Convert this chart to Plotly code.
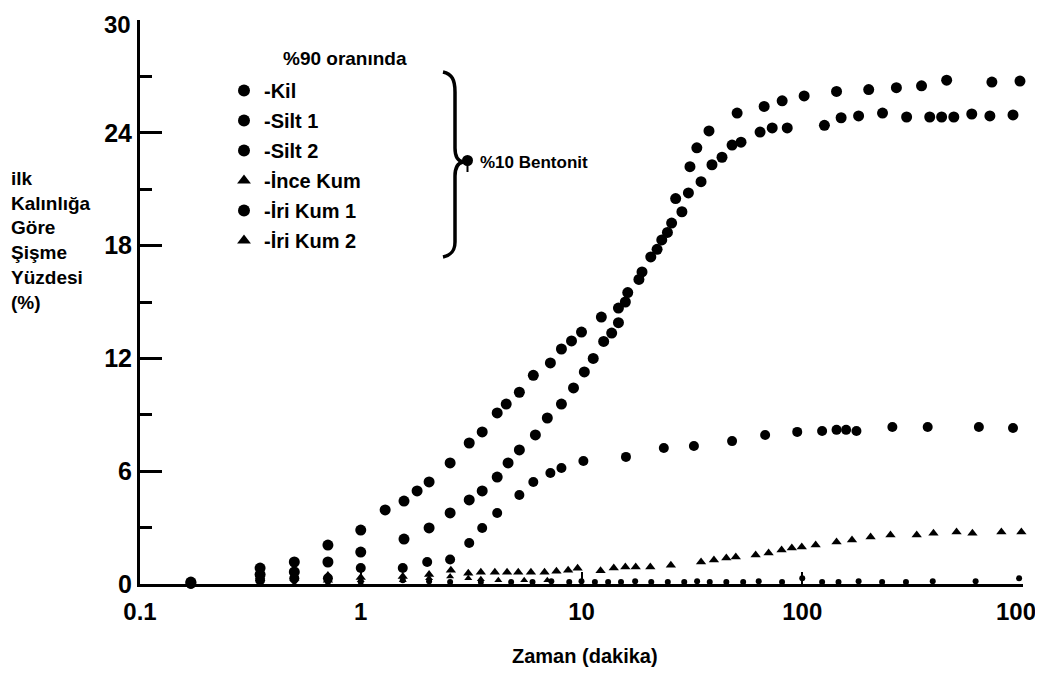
import plotly.graph_objects as go

# ---------------- data ----------------
kil_x = [0.17, 0.35, 0.5, 0.71, 1.0, 1.29, 1.57, 1.8, 2.04, 2.54, 3.1, 3.55, 4.15, 4.56, 5.23,
         6.05, 7.23, 8.11, 9.01, 10.0, 12.3, 14.7, 15.8, 18.2, 20.6, 23.1, 25.6, 26.7, 31.0, 33.3,
         37.8, 50.7, 67.2, 81.1, 102, 143, 200, 267, 347, 451, 723, 969]
kil_y = [0.1, 0.85, 1.17, 2.07, 2.87, 3.94, 4.41, 4.95, 5.43, 6.44, 7.5, 8.09, 9.1, 9.57, 10.2,
         11.1, 11.76, 12.5, 12.93, 13.4, 14.2, 14.68, 15.0, 16.2, 17.4, 18.3, 19.2, 20.5, 22.2, 23.2,
         24.1, 25.05, 25.4, 25.7, 25.96, 26.2, 26.3, 26.4, 26.5, 26.8, 26.7, 26.75]

silt1_x = [0.17, 0.35, 0.5, 0.71, 1.0, 1.55, 2.0, 2.54, 3.1, 3.55, 4.15, 5.23, 6.05, 7.23, 8.11,
           10.2, 15.9, 23.6, 32.3, 48.1, 67.9, 94.9, 123, 143, 158, 176, 256, 370, 631, 901]
silt1_y = [0.0, 0.2, 0.3, 0.3, 0.85, 0.85, 1.17, 1.3, 2.18, 2.98, 3.78, 4.73, 5.43, 5.9, 6.17,
           6.54, 6.76, 7.23, 7.34, 7.6, 7.93, 8.09, 8.14, 8.2, 8.2, 8.14, 8.35, 8.35, 8.35, 8.3]

silt2_x = [0.17, 0.35, 0.5, 0.71, 1.0, 1.57, 2.04, 2.54, 3.1, 3.55, 4.15, 4.65, 5.23, 6.18, 7.0,
           8.11, 9.2, 10.3, 11.3, 12.6, 13.7, 14.7, 16.2, 18.8, 22.0, 24.5, 28.5, 30.5, 34.8, 39.0,
           43.3, 48.1, 52.8, 64.4, 73.1, 85.5, 126, 150, 180, 231, 297, 378, 428, 486, 586, 708, 901]
silt2_y = [0.05, 0.5, 0.64, 1.17, 1.7, 2.39, 2.98, 3.78, 4.47, 4.95, 5.69, 6.44, 7.13, 7.93, 8.83,
           9.57, 10.43, 11.28, 12.0, 12.9, 13.35, 13.9, 15.5, 16.6, 17.8, 18.7, 19.8, 20.8, 21.4, 22.3,
           22.7, 23.35, 23.5, 24.04, 24.26, 24.26, 24.4, 24.8, 24.9, 25.05, 24.84, 24.84, 24.84, 24.84,
           25.0, 24.9, 24.95]

ince_x = [0.17, 0.35, 0.5, 0.71, 1.0, 1.55, 2.04, 2.56, 3.07, 3.5, 4.05, 4.6, 5.17, 5.9, 6.8,
          7.7, 8.7, 9.6, 12.2, 14.0, 15.8, 17.6, 20.5, 25.4, 34.8, 39.8, 45.3, 50.0, 61.5, 70.4,
          80.6, 89.7, 99.5, 115, 143, 168, 204, 251, 330, 393, 500, 590, 798, 983]
ince_y = [0.0, 0.4, 0.3, 0.2, 0.35, 0.4, 0.5, 0.73, 0.57, 0.63, 0.63, 0.63, 0.63, 0.63, 0.63,
          0.68, 0.73, 0.84, 0.7, 0.85, 0.9, 0.9, 0.9, 1.0, 1.17, 1.28, 1.38, 1.44, 1.54, 1.65,
          1.81, 1.91, 1.97, 2.07, 2.23, 2.34, 2.5, 2.6, 2.6, 2.7, 2.76, 2.7, 2.76, 2.76]

iri1_x = [0.17, 0.35, 0.5, 0.71, 1.0, 1.55, 2.04, 2.54, 3.5, 4.8, 6.0, 7.3, 8.8, 10, 11.5,
          13.2, 15.1, 17.5, 20.7, 24.6, 29.2, 33.4, 38.1, 45.3, 54, 63.5, 81, 100, 123, 146,
          180, 230, 295, 390, 610, 960]
iri1_y = [0.0, 0.1, 0.15, 0.1, 0.1, 0.2, 0.15, 0.1, 0.1, 0.1, 0.1, 0.15, 0.1, 0.15, 0.1,
          0.1, 0.1, 0.15, 0.1, 0.1, 0.1, 0.15, 0.1, 0.1, 0.1, 0.15, 0.1, 0.3, 0.1, 0.1,
          0.15, 0.1, 0.1, 0.15, 0.15, 0.3]

iri2_x = [0.17, 0.35, 0.5, 0.71, 1.0, 1.55, 2.04, 2.54, 3.07, 3.5, 4.2, 5.5, 7.0]
iri2_y = [0.05, 0.3, 0.2, 0.5, 0.2, 0.2, 0.3, 0.4, 0.3, 0.25, 0.2, 0.2, 0.2]

series_names = ["Kil", "Silt 1", "Silt 2", "İnce Kum", "İri Kum 1", "İri Kum 2"]
x_tickvals = [0.1, 1, 10, 100, 1000]
x_ticktext = ["0.1", "1", "10", "100", "100"]
y_tickvals = [0, 6, 12, 18, 24, 30]
y_ticktext = ["0", "6", "12", "18", "24", "30"]

# ---------------- figure ----------------
# the page body has an 8px margin, so the figure is drawn 8px in from the window corner
OFF = 8
W, H = 1043 - 2 * OFF, 677 - 2 * OFF
# plot area on screen: x 140..1023, y 20..584
ML, MT = 140 - OFF, 20 - OFF
MR = W - (1023 - OFF)
MB = H - (584 - OFF)
PW, PH = W - ML - MR, H - MT - MB


def px(x):
    """screen pixel x -> paper fraction"""
    return (x - OFF - ML) / PW


def py(y):
    """screen pixel y -> paper fraction"""
    return (H - MB - (y - OFF)) / PH


FONT = "Liberation Sans, Arial, sans-serif"
TICKFONT = dict(size=24, family=FONT, weight="bold", color="black")
YTICKFONT = dict(size=25, family=FONT, weight="bold", color="black")
styles = [
    ("circle", 11), ("circle", 10), ("circle", 11),
    ("triangle-up", 9), ("circle", 6), ("triangle-up", 7),
]
data = [(kil_x, kil_y), (silt1_x, silt1_y), (silt2_x, silt2_y),
        (ince_x, ince_y), (iri1_x, iri1_y), (iri2_x, iri2_y)]

fig = go.Figure()
for name, (xs, ys), (sym, size) in zip(series_names, data, styles):
    fig.add_trace(go.Scatter(
        x=xs, y=ys, mode="markers", name="-" + name, legendgroup=name,
        cliponaxis=False,
        marker=dict(symbol=sym, size=size, color="black", line=dict(width=0)),
    ))

# the end tick labels would spill past the page edges, so they are drawn as
# annotations nudged inward (as in the original scan)
x_axis_text = x_ticktext[:-1] + [""]
y_axis_text = y_ticktext[:-1] + [""]

fig.update_layout(
    width=W, height=H,
    margin=dict(l=ML, r=MR, t=MT, b=MB, autoexpand=False),
    paper_bgcolor="white", plot_bgcolor="white",
    font=dict(family=FONT, color="black"),
    showlegend=True,
    legend=dict(
        x=px(224), y=py(71), xanchor="left", yanchor="top",
        bgcolor="rgba(0,0,0,0)", tracegroupgap=1,
        font=dict(size=20, family=FONT, weight="bold"),
        itemsizing="constant",
    ),
    xaxis=dict(
        type="log", range=[-1, 3.0], automargin=False,
        tickvals=x_tickvals, ticktext=x_axis_text,
        showgrid=False, zeroline=False,
        showline=True, linecolor="black", linewidth=3,
        ticks="inside", ticklen=12, tickwidth=2, tickcolor="black",
        tickfont=TICKFONT,
        ticklabelstandoff=4, ticklabeloverflow="allow",
    ),
    yaxis=dict(
        range=[0, 30], automargin=False,
        tickvals=y_tickvals, ticktext=y_axis_text,
        showgrid=False, zeroline=False,
        showline=True, linecolor="black", linewidth=3,
        ticks="inside", ticklen=22, tickwidth=3, tickcolor="black",
        minor=dict(ticks="inside", ticklen=12, tickwidth=3, dtick=3, tickcolor="black"),
        tickfont=YTICKFONT,
        ticklabelstandoff=0, ticklabeloverflow="allow",
    ),
)

annotations = [
    dict(text=x_ticktext[-1], x=px(1016), y=py(611), xref="paper", yref="paper",
         xanchor="center", yanchor="middle", showarrow=False, font=TICKFONT),
    dict(text=y_ticktext[-1], x=px(133), y=py(24), xref="paper", yref="paper",
         xanchor="right", yanchor="middle", showarrow=False,
         font=dict(size=24, family=FONT, weight="bold", color="black")),
    dict(text="ilk<br>Kalınlığa<br>Göre<br>Şişme<br>Yüzdesi<br>(%)",
         x=px(9), y=py(240), xref="paper", yref="paper", xanchor="left", yanchor="middle",
         align="left", showarrow=False, font=dict(size=19, family=FONT, weight="bold")),
    dict(text="Zaman (dakika)", x=px(585), y=py(656), xref="paper", yref="paper",
         xanchor="center", yanchor="middle", showarrow=False,
         font=dict(size=20, family=FONT, weight="bold")),
    dict(text="%90 oranında", x=px(281), y=py(58), xref="paper", yref="paper",
         xanchor="left", yanchor="middle", showarrow=False,
         font=dict(size=19, family=FONT, weight="bold")),
    dict(text="%10 Bentonit", x=px(478), y=py(163), xref="paper", yref="paper",
         xanchor="left", yanchor="middle", showarrow=False,
         font=dict(size=17, family=FONT, weight="bold")),
]
fig.update_layout(annotations=annotations)


def P(x, y):
    return f"{px(x):.5f},{py(y):.5f}"


brace = ("M " + P(443, 72) + " C " + P(452, 74) + " " + P(455, 80) + " " + P(455, 92) +
         " L " + P(455, 148) + " C " + P(455, 156) + " " + P(458, 161) + " " + P(463, 162) +
         " C " + P(458, 163) + " " + P(455, 168) + " " + P(455, 176) +
         " L " + P(455, 242) + " C " + P(455, 250) + " " + P(452, 255) + " " + P(443, 257))
shapes = [
    dict(type="path", path=brace, xref="paper", yref="paper",
         line=dict(color="black", width=3.5)),
    dict(type="circle", xref="paper", yref="paper",
         x0=px(462), x1=px(473), y0=py(166), y1=py(155),
         fillcolor="black", line=dict(color="black", width=0)),
    dict(type="line", xref="paper", yref="paper",
         x0=px(467.5), x1=px(467.5), y0=py(164), y1=py(172),
         line=dict(color="black", width=2)),
]
fig.update_layout(shapes=shapes)

fig.write_html("out.html")
